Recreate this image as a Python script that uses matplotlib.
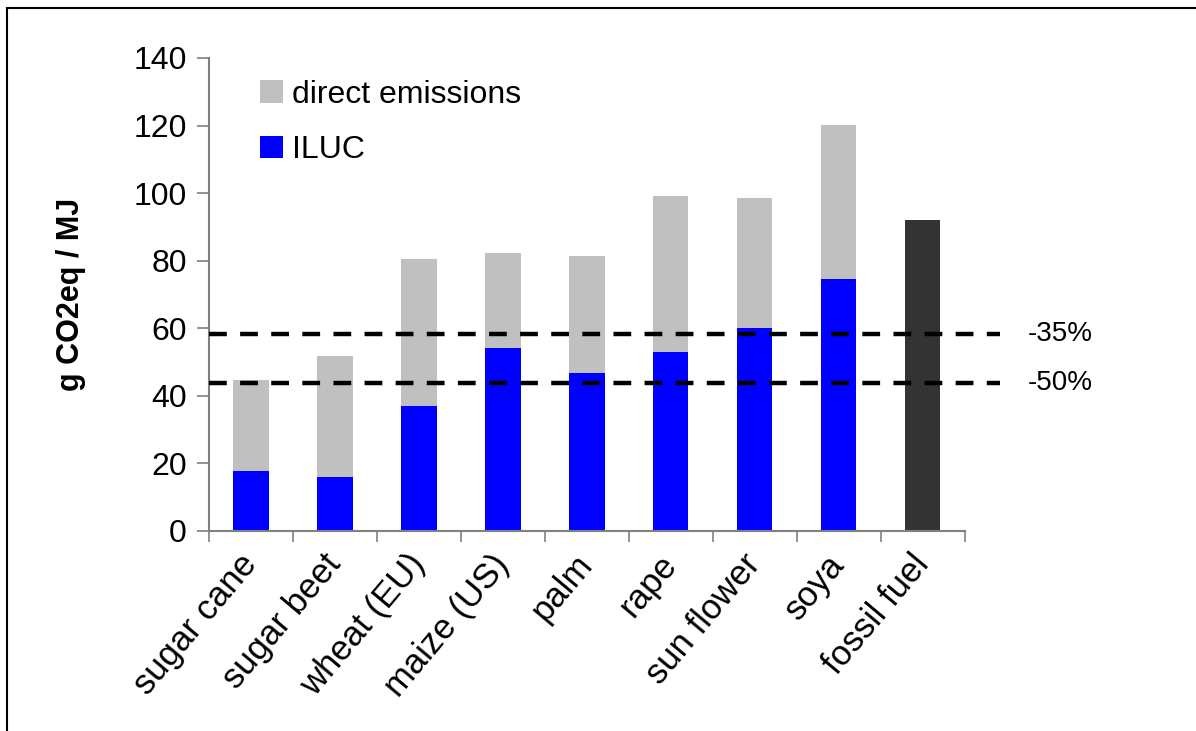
import matplotlib
matplotlib.use('Agg')
import matplotlib.pyplot as plt
from matplotlib.lines import Line2D
import numpy as np

plt.rcParams['font.family'] = ['Liberation Sans', 'DejaVu Sans']

crops = ['sugar cane', 'sugar beet', 'wheat (EU)', 'maize (US)', 'palm',
         'rape', 'sun flower', 'soya', 'fossil fuel']
iluc = [17.7, 15.9, 36.9, 54.1, 46.7, 53.0, 60.0, 74.5, 0]
total = [44.6, 51.7, 80.4, 82.4, 81.3, 99.1, 98.5, 120.1, 0]
fossil = [0, 0, 0, 0, 0, 0, 0, 0, 92.0]
thresholds = [58.4, 43.8]
threshold_labels = ['-35%', '-50%']

direct = [t - i for t, i in zip(total, iluc)]
x = np.arange(len(crops))

fig = plt.figure(figsize=(11.96, 7.31), dpi=100)
ax = fig.add_axes([0.1747, 0.2736, 0.632, 0.6471])

w = 0.42
ax.bar(x, iluc, w, color='#0000FF', label='ILUC', zorder=2)
ax.bar(x, direct, w, bottom=iluc, color='#C0C0C0', label='direct emissions', zorder=2)
ax.bar(x, fossil, w, color='#333333', zorder=2)

# reduction thresholds reach past the axes on the right
for y, lab in zip(thresholds, threshold_labels):
    ax.plot([-0.5, 8.92], [y, y], color='black', lw=3.2,
            linestyle=(0, (4, 3)), clip_on=False, zorder=3)
    ax.text(9.25, y, lab, fontsize=20, va='center', ha='left')

ax.set_xlim(-0.5, 8.5)
ax.set_ylim(0, 140)
ax.set_yticks(range(0, 141, 20))
ax.set_xticks(x)
ax.set_xticks(np.arange(-0.5, 9, 1), minor=True)
ax.set_xticklabels(crops, rotation=50, ha='right', va='center',
                   rotation_mode='anchor', fontsize=25)
ax.tick_params(axis='x', which='major', length=0, pad=20)
ax.tick_params(axis='x', which='minor', length=8, color='#808080', width=1.2)
ax.tick_params(axis='y', labelsize=23, length=9, color='#808080', width=1.2, pad=7)

for s in ['top', 'right']:
    ax.spines[s].set_visible(False)
for s in ['left', 'bottom']:
    ax.spines[s].set_color('#808080')
    ax.spines[s].set_linewidth(1.5)

ax.set_ylabel('g CO2eq / MJ', fontsize=22, fontweight='bold', labelpad=34)

handles, labels = ax.get_legend_handles_labels()
ax.legend(handles[::-1], labels[::-1], loc='upper left', bbox_to_anchor=(0.03, 1.015),
          frameon=False, fontsize=23, handlelength=0.7, handleheight=0.7,
          handletextpad=0.3, labelspacing=0.8)

# outer frame (only top and left edges show in the original)
fig.add_artist(Line2D([0.006, 1.0], [0.989, 0.989], color='black', lw=1.5,
                      transform=fig.transFigure))
fig.add_artist(Line2D([0.006, 0.006], [0.0, 0.989], color='black', lw=1.5,
                      transform=fig.transFigure))

fig.savefig('out.png', dpi=100)
